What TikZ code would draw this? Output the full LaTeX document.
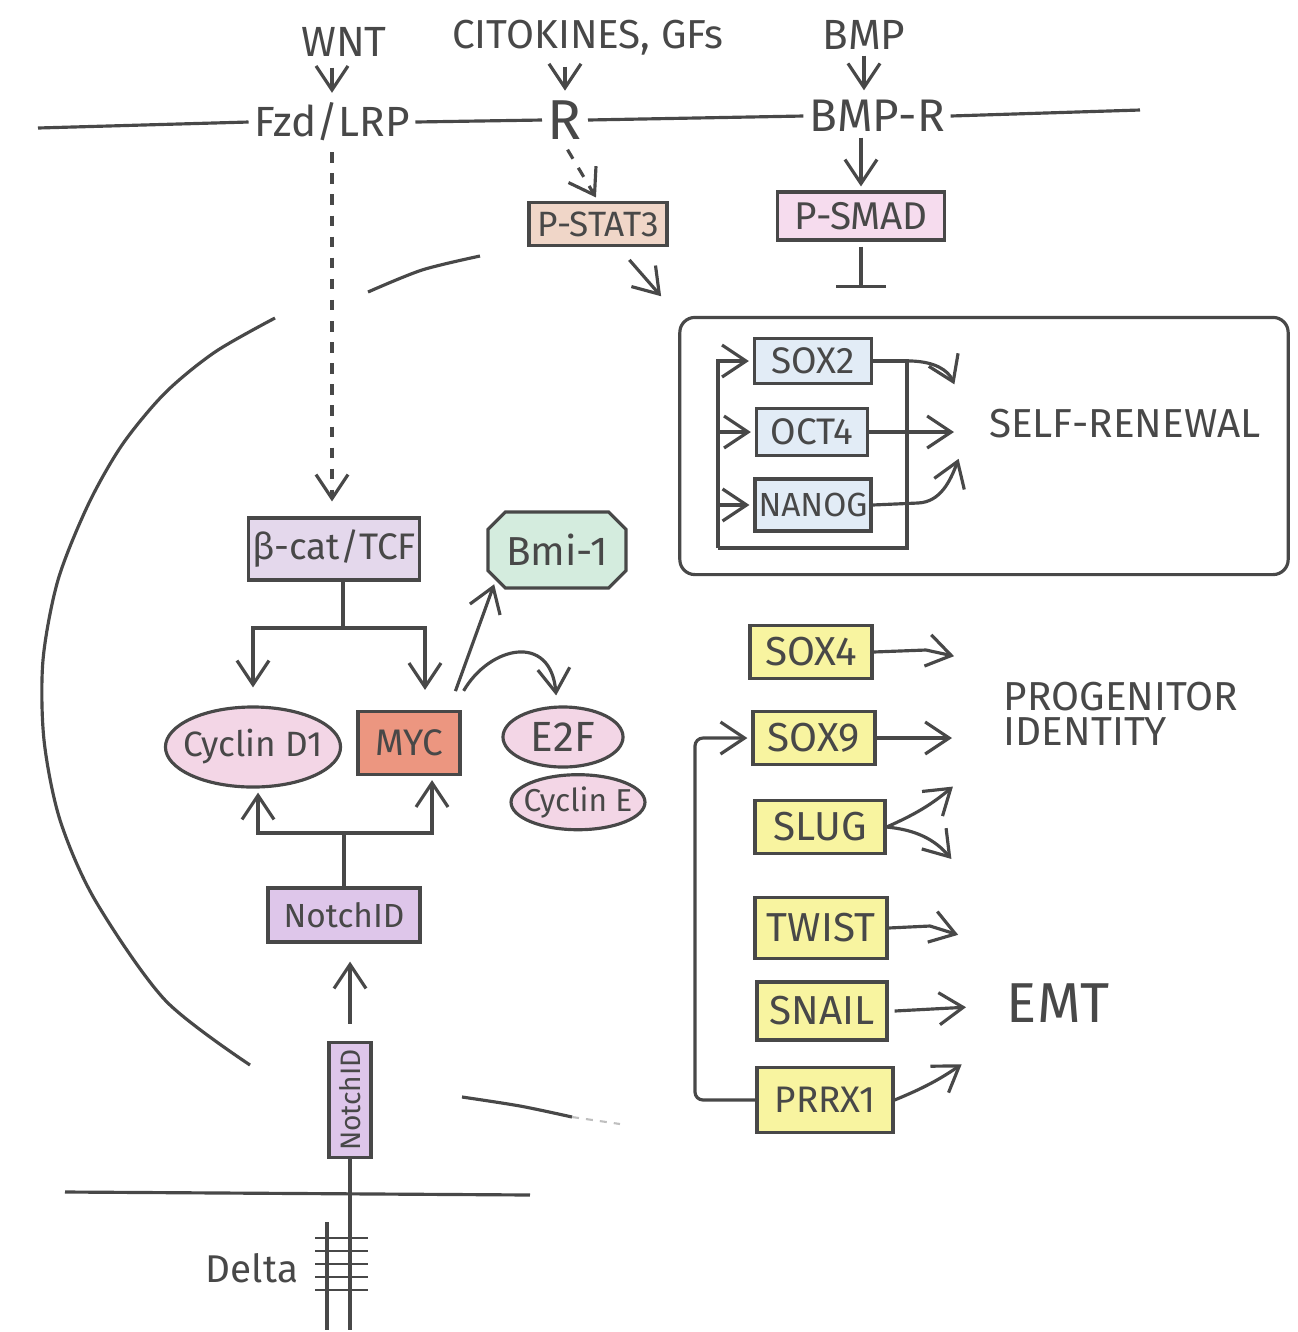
\documentclass[tikz,border=0pt]{standalone}
\usepackage{fontspec}
\setmainfont{Fira Sans}
\usetikzlibrary{arrows.meta,positioning,shapes.geometric,shapes.misc}
\definecolor{inkgray}{RGB}{72,72,72}
\definecolor{peach}{RGB}{240,214,200}
\definecolor{rosy}{RGB}{246,220,238}
\definecolor{lilac}{RGB}{228,216,236}
\definecolor{mint}{RGB}{212,236,222}
\definecolor{blush}{RGB}{243,214,230}
\definecolor{salmon}{RGB}{236,150,128}
\definecolor{orchid}{RGB}{222,198,234}
\definecolor{icy}{RGB}{226,236,246}
\definecolor{lemon}{RGB}{248,244,160}
\tikzset{
  ink/.style={draw=inkgray, line width=0.9pt},
  flow/.style={ink, -{Straight Barb[length=2.4mm,width=3.2mm]}, shorten >=0.04cm},
  inhibit/.style={ink, -{Bar[width=5mm]}},
  lab/.style={text=inkgray, inner sep=1.5pt, font=\fontsize{12}{14}\selectfont},
  genebox/.style={ink, rectangle, text=inkgray, inner sep=1pt, font=\fontsize{10.5}{12}\selectfont},
  blob/.style={ink, ellipse, text=inkgray, inner xsep=-3pt, inner ysep=0pt, font=\fontsize{10}{12}\selectfont},
  tf/.style={genebox, fill=icy},
  emtbox/.style={genebox, fill=lemon, font=\fontsize{11.5}{13}\selectfont}
}
\begin{document}
\begin{tikzpicture}[x=0.01cm, y=-0.01cm]
  \useasboundingbox (0,0) rectangle (1298,1332);

  % plasma membrane, top
  \coordinate (mL) at (38,128);
  \coordinate (mR) at (1140,110);
  \node[lab] (wnt) at (344,42) {WNT};
  \node[lab, font=\fontsize{11.5}{14}\selectfont] (cyt) at (588,38) {CITOKINES, GFs};
  \node[lab] (bmp) at (864,35) {BMP};
  \node[lab] (fzd) at (332,122) {Fzd/LRP};
  \node[lab, font=\fontsize{16}{18}\selectfont] (rec) at (565,120) {R};
  \node[lab, font=\fontsize{13}{15}\selectfont] (bmpr) at (877,116) {BMP-R};
  \draw[ink] (mL) -- (fzd.west);
  \draw[ink] (fzd.east) -- (rec.west);
  \draw[ink] (rec.east) -- (bmpr.west);
  \draw[ink] (bmpr.east) -- (mR);
  \draw[flow, shorten <=0.05cm] (fzd.north |- wnt.south) -- (fzd.north);
  \draw[flow, shorten <=0.05cm] (rec.north |- cyt.south) -- (rec.north);
  \draw[flow] (bmp.south) -- (bmp.south |- bmpr.north);

  \node[genebox, fill=peach, minimum width=1.38cm, minimum height=0.43cm, font=\fontsize{10}{12}\selectfont] (stat) at (598,224) {P-STAT3};
  \node[genebox, fill=rosy, minimum width=1.67cm, minimum height=0.48cm, font=\fontsize{11}{13}\selectfont] (smad) at (861,216) {P-SMAD};
  \draw[flow, dashed, shorten <=0.05cm] (rec.south) -- (stat.north);
  \draw[flow] (smad.north |- bmpr.south) -- (smad.north);
  \coordinate (stop) at (861,288);
  \draw[inhibit, shorten <=0.05cm] (smad.south) -- (stop);

  % nucleus
  \draw[ink] plot[smooth] coordinates {(368,292) (422,270) (480,256)};
  \draw[ink] plot[smooth] coordinates {(275,318) (215,352) (165,393) (122,445) (88,505) (58,580) (43,660) (44,740) (60,820) (95,900) (165,1000) (250,1065)};
  \draw[ink] plot[smooth] coordinates {(462,1097) (520,1106) (572,1117)};
  \draw[draw=inkgray!35, line width=0.6pt, dash pattern=on 2pt off 2pt] (572,1117) -- (620,1124);

  % self-renewal
  \node[ink, rounded corners=0.15cm, minimum width=6.08cm, minimum height=2.57cm] (srbox) at (984,446) {};
  \draw[flow, shorten <=0.17cm, shorten >=0.26cm] (stat) -- (srbox.north west);
  \node[tf, minimum width=1.17cm, minimum height=0.45cm] (sox2) at (813,361) {SOX2};
  \node[tf, minimum width=1.11cm, minimum height=0.47cm] (oct4) at (812,432) {OCT4};
  \node[tf, minimum width=1.13cm, minimum height=0.52cm, font=\fontsize{9.5}{11}\selectfont] (nanog) at (813,505) {NANOG};
  \coordinate (loopR) at (907,548);
  \coordinate (loopL) at (718,548);
  \draw[ink] (sox2.east) -| (loopR) -- (loopL);
  \draw[flow] (loopL) |- (sox2.west);
  \draw[flow] (loopL |- oct4.west) -- (oct4.west);
  \draw[flow] (loopL |- nanog.west) -- (nanog.west);
  \node[lab, font=\fontsize{11.5}{13}\selectfont] (selfren) at (1125,424) {SELF-RENEWAL};
  \coordinate (srA) at (956,388);
  \coordinate (srB) at (958,432);
  \coordinate (srC) at (960,455);
  \draw[flow] (sox2.east) -- (912,361) .. controls (935,362) and (948,370) .. (srA);
  \draw[flow] (oct4.east) -- (srB);
  \draw[flow] (nanog.east) -- (918,503) .. controls (940,502) and (950,482) .. (srC);

  % Wnt / Notch targets
  \node[genebox, fill=lilac, minimum width=1.68cm, minimum height=0.62cm] (bcat) at (334,549) {β-cat/TCF};
  \draw[flow, dashed, shorten <=0.05cm, shorten >=0.15cm] (fzd.south) -- (fzd.south |- bcat.north);
  \node[ink, chamfered rectangle, chamfered rectangle xsep=0.05cm, fill=mint, minimum width=1.38cm, minimum height=0.76cm, text=inkgray, font=\fontsize{11.5}{13}\selectfont, inner sep=1pt] (bmi) at (557,550) {Bmi-1};
  \node[blob, fill=blush, minimum width=1.75cm, minimum height=0.80cm] (cycd) at (253,747) {Cyclin D1};
  \node[genebox, fill=salmon, minimum width=1.02cm, minimum height=0.63cm] (myc) at (409,743) {MYC};
  \node[blob, fill=blush, minimum width=1.20cm, minimum height=0.60cm, font=\fontsize{12}{14}\selectfont] (e2f) at (563,737) {E2F};
  \node[blob, fill=blush, minimum width=1.32cm, minimum height=0.55cm, inner xsep=-2pt, font=\fontsize{9}{11}\selectfont, below=0.045cm of e2f, xshift=0.15cm] (cyce) {Cyclin E};

  \coordinate (bsplit) at (343,628);
  \draw[ink] (bsplit |- bcat.south) -- (bsplit);
  \draw[flow, shorten >=0.18cm] (bsplit) -| (cycd.north);
  \draw[flow, shorten >=0.2cm] (bsplit) -| ([xshift=0.16cm]myc.north);
  \draw[flow, shorten <=0.2cm] ([xshift=-0.13cm]myc.north east) -- (bmi.south west);
  \draw[flow, shorten <=0.22cm, shorten >=0.1cm] ([xshift=-0.09cm]myc.north east) to[out=60, in=95, looseness=1.8] ([xshift=-0.06cm]e2f.north);

  \node[genebox, fill=orchid, minimum width=1.52cm, minimum height=0.54cm, font=\fontsize{9.5}{11}\selectfont] (nicd) at (344,915) {NotchID};
  \coordinate (nsplit) at (344,833);
  \draw[ink] (nicd.north) -- (nsplit);
  \draw[flow] (nsplit) -| ([xshift=0.05cm]cycd.south);
  \draw[flow] (nsplit) -| ([xshift=0.23cm]myc.south);

  \node[genebox, fill=orchid, minimum width=0.42cm, minimum height=1.15cm, font=\fontsize{8}{9}\selectfont] (nvert) at (350,1100) {\rotatebox{90}{NotchID}};
  \draw[flow, shorten <=0.17cm, shorten >=0.18cm] (nvert.north) -- (nvert.north |- nicd.south);

  % plasma membrane, bottom, and Delta
  \coordinate (bL) at (65,1192);
  \coordinate (bR) at (530,1195);
  \draw[ink] (bL) -- (bR);
  \coordinate (nEnd) at (350,1330);
  \draw[ink] (nvert.south) -- (nEnd);
  \coordinate (dTop) at (327,1222);
  \coordinate (dEnd) at (327,1330);
  \draw[ink] (dTop) -- (dEnd);
  \foreach \y in {1238,1251,1264,1277,1290}
    \draw[ink, line width=0.8pt] (315,\y) -- (368,\y);
  \node[lab, font=\fontsize{11}{13}\selectfont] (delta) at (252,1268) {Delta};

  % progenitor identity / EMT
  \node[emtbox, minimum width=1.22cm, minimum height=0.53cm] (sox4) at (811,652) {SOX4};
  \node[emtbox, minimum width=1.22cm, minimum height=0.53cm] (sox9) at (814,738) {SOX9};
  \node[emtbox, minimum width=1.30cm, minimum height=0.53cm] (slug) at (820,827) {SLUG};
  \node[emtbox, minimum width=1.32cm, minimum height=0.61cm] (twist) at (821,928) {TWIST};
  \node[emtbox, minimum width=1.30cm, minimum height=0.58cm] (snail) at (822,1011) {SNAIL};
  \node[emtbox, minimum width=1.36cm, minimum height=0.65cm, font=\fontsize{10.5}{12}\selectfont] (prrx) at (825,1100) {PRRX1};
  \node[lab, align=left, anchor=west, font=\fontsize{11.5}{10}\selectfont] (prog) at (998,714) {PROGENITOR\\IDENTITY};
  \node[lab, font=\fontsize{16}{18}\selectfont] (emt) at (1058,1003) {EMT};

  \coordinate (pA) at (958,657);
  \coordinate (pB) at (956,738);
  \coordinate (eA) at (956,784);
  \coordinate (eB) at (954,862);
  \coordinate (eC) at (962,936);
  \coordinate (eD) at (970,1007);
  \coordinate (eE) at (965,1062);
  \draw[flow] (sox4.east) -- (926,650) -- (pA);
  \draw[flow] (sox9.east) -- (pB);
  \draw[flow] (slug.east) to[bend right=8] (eA);
  \draw[flow] (slug.east) to[bend left=22] (eB);
  \draw[flow] (twist.east) -- (930,926) -- (eC);
  \draw[flow] ([xshift=0.06cm]snail.east) -- (eD);
  \draw[flow] (prrx.east) to[bend right=6] (eE);
  \draw[flow, rounded corners=0.08cm] (prrx.west) -- (695,1100) |- (sox9.west);
\end{tikzpicture}
\end{document}
